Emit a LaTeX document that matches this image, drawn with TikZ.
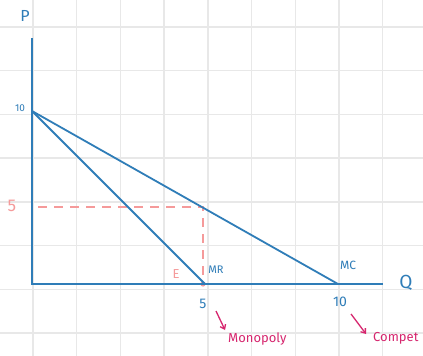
\documentclass[tikz,border=0pt]{standalone}
\usepackage{fontspec}
\setmainfont{Fira Sans}
\usepackage{tikz}
\usetikzlibrary{arrows.meta,positioning,calc}
\definecolor{axisblue}{HTML}{2F7DB8}
\definecolor{salmon}{HTML}{F59A9A}
\definecolor{pinkred}{HTML}{D6266E}
\definecolor{gridgray}{HTML}{E8E8E8}
\tikzset{
  curve/.style={axisblue, line width=1.8pt},
  guide/.style={salmon, line width=1.6pt, dash pattern=on 9pt off 7pt},
  bluelabel/.style={text=axisblue, inner sep=0pt},
  notelabel/.style={text=pinkred, inner sep=0pt, font=\fontsize{13}{13}\selectfont},
  pointer/.style={pinkred, line width=1.3pt, -{Straight Barb[length=4pt,width=6pt]}}
}
\begin{document}
\begin{tikzpicture}[x=1pt, y=-1pt]
  \useasboundingbox[fill=white] (0,0) rectangle (423,356);
  \clip (0,0) rectangle (423,356);
  % Paper grid
  \foreach \gx in {0,...,8} {
    \draw[gridgray, line width=1.4pt] (33+43.7*\gx,0) -- (33+43.7*\gx,356);
  }
  \foreach \gy in {0,...,7} {
    \draw[gridgray, line width=1.4pt] (0,27+43.7*\gy) -- (423,27+43.7*\gy);
  }
  % Key points
  \coordinate (O) at (32,284);
  \coordinate (Ptop) at (32,38);
  \coordinate (Qend) at (383,284);
  \coordinate (A) at (32,111);
  \coordinate (Qm) at (205,284);
  \coordinate (Qc) at (338,284);
  \coordinate (Pm) at (38,207);
  \coordinate (Dm) at (203,207);
  \coordinate (Em) at (203,284);
  % Guides at the monopoly point
  \draw[guide] (Pm) -- (Dm) -- (Em);
  \fill[salmon] (Em) circle (2.6pt);
  % Axes
  \draw[curve] (Ptop) -- (O) -- (Qend);
  % Demand and marginal revenue
  \draw[curve] (A) -- (Qc);
  \draw[curve] (A) -- (Qm);
  % Labels
  \node[bluelabel, font=\fontsize{16}{16}\selectfont] (pLab) at (25,16) {P};
  \node[bluelabel, font=\fontsize{19}{19}\selectfont] (qLab) at (406,283) {Q};
  \node[bluelabel, font=\fontsize{10}{10}\selectfont] (tenP) at (20,108) {10};
  \node[text=salmon, inner sep=0pt, font=\fontsize{17}{17}\selectfont] (fiveP) at (12,206) {5};
  \node[text=salmon, inner sep=0pt, font=\fontsize{13}{13}\selectfont] (eLab) at (176,274) {E};
  \node[bluelabel, font=\fontsize{11}{11}\selectfont] (mrLab) at (216,270) {MR};
  \node[bluelabel, font=\fontsize{12}{12}\selectfont] (mcLab) at (348,265) {MC};
  \node[bluelabel, font=\fontsize{14}{14}\selectfont] (fiveQ) at (203,304) {5};
  \node[bluelabel, font=\fontsize{14}{14}\selectfont] (tenQ) at (340,302) {10};
  % Notes
  \node[notelabel, anchor=west] (mono) at (228,339) {Monopoly};
  \node[notelabel, anchor=west] (comp) at (373,338) {Compet};
  \coordinate (monoTail) at (216,311);
  \coordinate (compTail) at (351,314);
  \draw[pointer] (monoTail) -- ($(mono.west)+(-3,-9)$);
  \draw[pointer] (compTail) -- ($(comp.west)+(-7,-4)$);
\end{tikzpicture}
\end{document}
